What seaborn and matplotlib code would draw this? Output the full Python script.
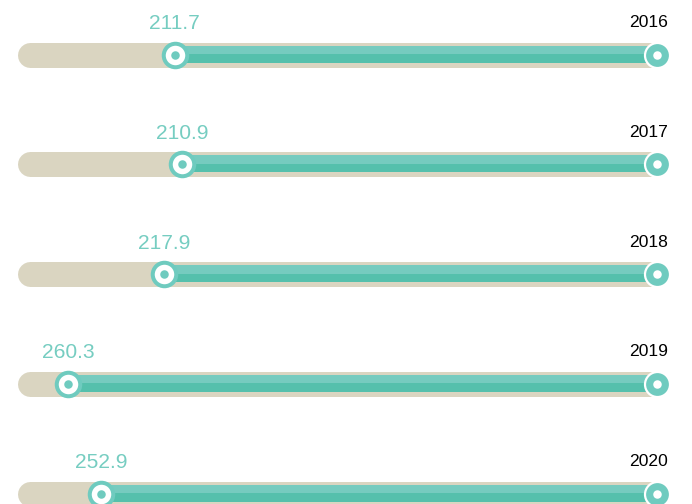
import matplotlib
matplotlib.use("Agg")
import matplotlib.pyplot as plt
import seaborn as sns
import pandas as pd

# ---- data ----
years = ["2016", "2017", "2018", "2019", "2020"]
values = [211.7, 210.9, 217.9, 260.3, 252.9]
progress = [23.1, 24.3, 21.4, 6.1, 11.3]   # marker position along track (0-100)
track_end = 100

sns.set_theme(style="white")
plt.rcParams["font.family"] = ["Liberation Sans", "DejaVu Sans"]

TRACK = "#dad5c1"
LIGHT = "#76cbbf"
DARK = "#55c0ac"
MARK = "#6fcbbf"
TEXT_TEAL = "#76cdc1"

df = pd.DataFrame({"year": years, "value": values, "pos": progress})
df["row"] = range(len(df))
df["end"] = track_end

fig = plt.figure(figsize=(6.92, 5.04), dpi=100)
ax = fig.add_axes([0, 0, 1, 1])
ax.set_axis_off()

px_per_unit = 6.27
x0_px = 30.0
row_px = 109.8
c0 = 54.5
xlim = (-x0_px / px_per_unit, (692 - x0_px) / px_per_unit)
ylim = (len(df) - 1 + (504 - (c0 + (len(df) - 1) * row_px)) / row_px, -c0 / row_px)

pt = 72 / 100.0
band = 8.5 / row_px

for _, r in df.iterrows():
    y = r["row"]
    ax.plot([0, track_end], [y, y], color=TRACK, lw=25 * pt,
            solid_capstyle="round", zorder=1)
    ax.barh(y - band / 2 - 0.5 / row_px, track_end - r["pos"], left=r["pos"],
            height=band, color=LIGHT, zorder=2, linewidth=0)
    ax.barh(y + band / 2 - 0.5 / row_px, track_end - r["pos"], left=r["pos"],
            height=band, color=DARK, zorder=2, linewidth=0)

# left markers: white with teal ring
ax.plot(df["pos"], df["row"], ls="none", marker="o", ms=23.5 * pt,
        mfc="white", mec=MARK, mew=4 * pt, zorder=4)
# right end markers: teal with white ring
ax.plot(df["end"], df["row"], ls="none", marker="o", ms=25 * pt,
        mfc=MARK, mec="white", mew=2.2 * pt, zorder=4)
# inner dots
sns.scatterplot(data=df, x="pos", y="row", ax=ax, s=(8.5 * pt) ** 2,
                color=MARK, linewidth=0, zorder=5, legend=False)
sns.scatterplot(data=df, x="end", y="row", ax=ax, s=(8.5 * pt) ** 2,
                color="white", linewidth=0, zorder=5, legend=False)

ax.set_xlim(*xlim)
ax.set_ylim(*ylim)
ax.set_xlabel("")
ax.set_ylabel("")

for _, r in df.iterrows():
    ax.annotate(f"{r['value']:.1f}", xy=(r["pos"], r["row"]),
                xytext=(0, 25.5 * pt), textcoords="offset points",
                ha="center", va="baseline", fontsize=21 * pt,
                color=TEXT_TEAL, zorder=6)
    ax.annotate(r["year"], xy=(track_end, r["row"]),
                xytext=(11 * pt, 27.5 * pt), textcoords="offset points",
                ha="right", va="baseline", fontsize=17.5 * pt,
                color="black", zorder=6)

fig.savefig("out.png", dpi=100)
